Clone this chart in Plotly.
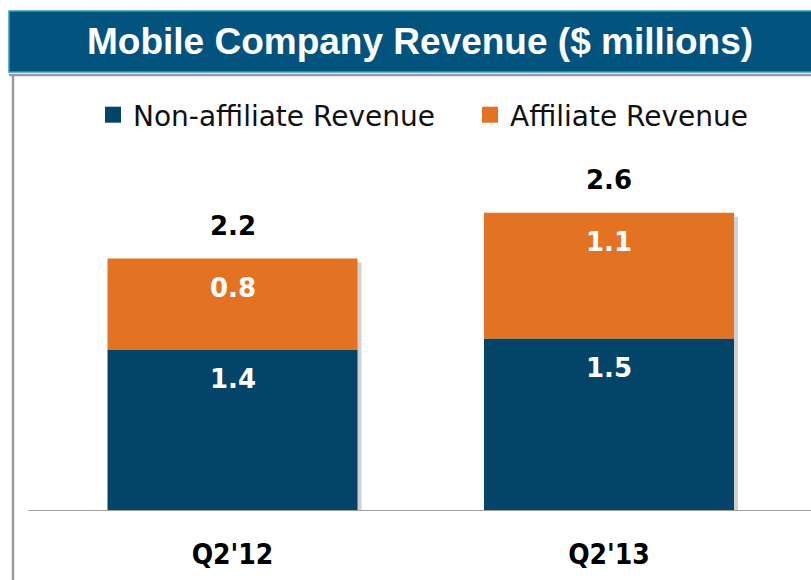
import plotly.graph_objects as go

categories = ["Q2'12", "Q2'13"]
non_affiliate = [1.4, 1.5]
affiliate = [0.8, 1.1]
totals = [2.2, 2.6]

NAVY = "#034468"
ORANGE = "#e37222"
BANNER = "#02547e"

PX_PER_CAT = 376.5
BAR_W = 250 / PX_PER_CAT
PX_PER_UNIT = 114.3

x = [0, 1]
fig = go.Figure()
# soft drop shadow behind each stacked bar
fig.add_trace(go.Bar(x=x, y=totals, base=-4 / PX_PER_UNIT, width=BAR_W,
                     offset=-BAR_W / 2 + 4 / PX_PER_CAT,
                     marker=dict(color="rgba(0,0,0,0.18)", line=dict(width=0)),
                     showlegend=False, hoverinfo="skip"))
fig.add_trace(go.Bar(x=x, y=non_affiliate, name="Non-affiliate Revenue", width=BAR_W,
                     marker=dict(color=NAVY, line=dict(width=0)), showlegend=False))
fig.add_trace(go.Bar(x=x, y=affiliate, base=non_affiliate, name="Affiliate Revenue", width=BAR_W,
                     marker=dict(color=ORANGE, line=dict(width=0)), showlegend=False))
# legend entries with square swatches
fig.add_trace(go.Scatter(x=[None], y=[None], mode="markers", name="Non-affiliate Revenue",
                         marker=dict(symbol="square", size=17, color=NAVY), legend="legend"))
fig.add_trace(go.Scatter(x=[None], y=[None], mode="markers", name="Affiliate Revenue",
                         marker=dict(symbol="square", size=17, color=ORANGE), legend="legend2"))

lab_font_b = dict(family="DejaVu Sans", size=26, color="#000000", weight="bold")
lab_font_w = dict(family="DejaVu Sans", size=26, color="#ffffff", weight="bold")
ann = []
for i in range(len(categories)):
    ann.append(dict(x=x[i], y=totals[i], yshift=33, text=f"{totals[i]:.1f}", showarrow=False,
                    font=lab_font_b, xref="x", yref="y"))
    ann.append(dict(x=x[i], y=non_affiliate[i] + affiliate[i], yshift=-29, text=f"{affiliate[i]:.1f}",
                    showarrow=False, font=lab_font_w, xref="x", yref="y"))
    ann.append(dict(x=x[i], y=non_affiliate[i], yshift=-29, text=f"{non_affiliate[i]:.1f}",
                    showarrow=False, font=lab_font_w, xref="x", yref="y"))

ann.append(dict(x=(420 - 28) / 783, y=(510 - 42) / 360, xref="paper", yref="paper",
                text="Mobile Company Revenue ($ millions)", showarrow=False,
                yanchor="middle", xanchor="center",
                font=dict(family="Liberation Sans", size=37, color="#ffffff", weight="bold")))

leg_font = dict(family="DejaVu Sans", size=28, color="#111111")
fig.update_layout(
    width=811, height=580,
    margin=dict(l=28, r=0, t=150, b=70),
    paper_bgcolor="white", plot_bgcolor="white",
    barmode="overlay",
    showlegend=True,
    legend=dict(x=(93 - 28) / 783, xanchor="left", y=(510 - 115) / 360, yanchor="middle",
                font=leg_font, itemwidth=30, bgcolor="rgba(0,0,0,0)"),
    legend2=dict(x=(470 - 28) / 783, xanchor="left", y=(510 - 115) / 360, yanchor="middle",
                 font=leg_font, itemwidth=30, bgcolor="rgba(0,0,0,0)"),
    xaxis=dict(tickvals=x, ticktext=categories,
               range=[(28 - 232.5) / PX_PER_CAT, 1 + (811 - 609) / PX_PER_CAT],
               showline=True, linecolor="#a0a0a0", linewidth=1, showgrid=False, zeroline=False,
               ticks="", ticklabelstandoff=19,
               tickfont=dict(family="DejaVu Sans Condensed", size=28, color="#000000", weight="bold")),
    yaxis=dict(range=[0, 360 / PX_PER_UNIT], visible=False, showgrid=False, zeroline=False),
    shapes=[
        dict(type="rect", xref="paper", yref="paper", x0=-19 / 783, x1=1.01,
             y0=(510 - 72) / 360, y1=(510 - 11) / 360,
             fillcolor=BANNER, line=dict(color="#2c9ad0", width=1.5), layer="above"),
        dict(type="line", xref="paper", yref="paper", x0=-19 / 783, x1=1.01,
             y0=(510 - 75) / 360, y1=(510 - 75) / 360, line=dict(color="#9a9a9a", width=2.5)),
        dict(type="line", xref="paper", yref="paper", x0=-(28 - 13) / 783, x1=-(28 - 13) / 783,
             y0=-0.3, y1=(510 - 75) / 360, line=dict(color="#9a9a9a", width=2.5)),
    ],
    annotations=ann,
)
fig.write_html("out.html", config={"displayModeBar": False},
               post_script="document.body.style.margin='0px';")
